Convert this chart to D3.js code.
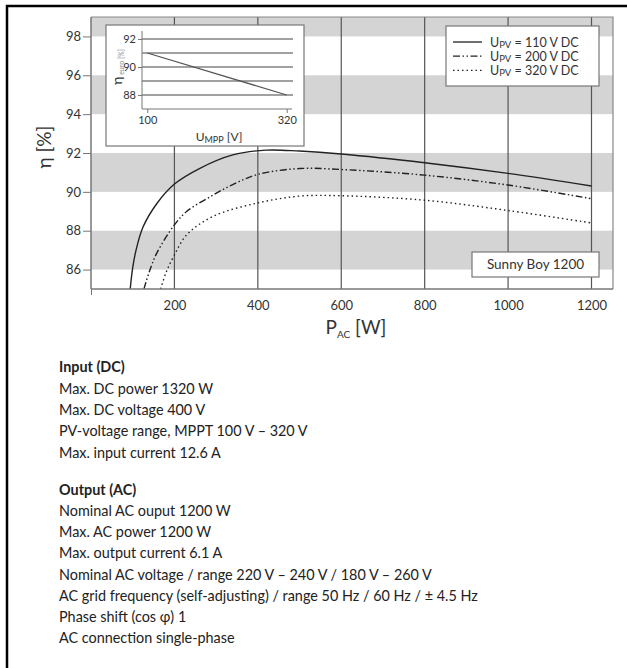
<!DOCTYPE html>
<html>
<head>
<meta charset="utf-8">
<script src="https://cdn.jsdelivr.net/npm/d3@7/dist/d3.min.js"></script>
<style>
body { margin: 0; background: #fff; }
svg { display: block; }
</style>
</head>
<body>
<svg id="svg"></svg>
<script>
var width = 627, height = 668;

// efficiency curves: P_AC [W] -> eta [%]
var powerUpv110 = [94, 100, 108, 125, 158, 200, 260, 340, 420, 500, 600, 800, 1000, 1200];
var etaUpv110   = [85, 86.1, 87.0, 88.2, 89.4, 90.4, 91.2, 91.9, 92.15, 92.1, 91.95, 91.5, 90.95, 90.3];
var powerUpv200 = [127, 140, 158, 200, 230, 294, 342, 400, 500, 600, 800, 1000, 1200];
var etaUpv200   = [85, 85.9, 86.86, 88.3, 89.0, 89.85, 90.4, 90.9, 91.2, 91.15, 90.86, 90.35, 89.65];
var powerUpv320 = [167, 180, 200, 230, 294, 400, 500, 600, 800, 1000, 1200];
var etaUpv320   = [85, 85.85, 86.75, 87.8, 88.75, 89.43, 89.78, 89.8, 89.57, 89.04, 88.4];
var seriesNames = ["110", "200", "320"];

var xTicks = [200, 400, 600, 800, 1000, 1200];
var yTicks = [86, 88, 90, 92, 94, 96, 98];
var bands = [[86, 88], [90, 92], [94, 96], [98, 99]];

// inset: euro efficiency vs MPP voltage
var insetVolt = [100, 320];
var insetEta = [91.0, 88.0];
var insetGrid = [88, 89, 90, 91, 92];
var insetYTicks = [88, 90, 92];
var insetXTicks = [100, 320];

var inputLines = ["Max. DC power 1320 W", "Max. DC voltage 400 V",
	"PV-voltage range, MPPT 100 V \u2013 320 V", "Max. input current 12.6 A"];
var outputLines = ["Nominal AC ouput 1200 W", "Max. AC power 1200 W", "Max. output current 6.1 A",
	"Nominal AC voltage / range 220 V \u2013 240 V / 180 V \u2013 260 V",
	"AC grid frequency (self-adjusting) / range 50 Hz / 60 Hz / \u00b1 4.5 Hz",
	"Phase shift (cos \u03c6) 1", "AC connection single-phase"];

var chartFont = "Lato, 'DejaVu Sans', sans-serif";
var textFont = "Lato, 'Open Sans', sans-serif";

var svg = d3.select("#svg")
	.attr("width", width)
	.attr("height", height);

// outer frame
svg.append("rect")
	.attr("x", 7).attr("y", 6)
	.attr("width", 630).attr("height", 680)
	.attr("fill", "none")
	.attr("stroke", "#000")
	.attr("stroke-width", 2.5);

var plotLeft = 91, plotRight = 613, plotTop = 17, plotBottom = 289;

var x = d3.scaleLinear().domain([0, 1200]).range([91, 591.5]);
var y = d3.scaleLinear().domain([85, 99]).range([plotBottom, plotTop]);

// bands
svg.selectAll(".band")
	.data(bands)
	.enter()
	.append("rect")
	.attr("class", "band")
	.attr("x", plotLeft)
	.attr("width", plotRight - plotLeft)
	.attr("y", function(d) { return y(d[1]); })
	.attr("height", function(d) { return y(d[0]) - y(d[1]); })
	.attr("fill", "#d4d4d4");

// vertical grid
svg.selectAll(".vgrid")
	.data(xTicks)
	.enter()
	.append("line")
	.attr("x1", function(d) { return x(d); })
	.attr("x2", function(d) { return x(d); })
	.attr("y1", plotTop)
	.attr("y2", plotBottom)
	.attr("stroke", "#555")
	.attr("stroke-width", 1.2);

// plot frame (top/right)
svg.append("path")
	.attr("d", "M" + plotLeft + "," + plotTop + "H" + plotRight + "V" + plotBottom)
	.attr("fill", "none")
	.attr("stroke", "#888")
	.attr("stroke-width", 1.2);

svg.append("clipPath").attr("id", "plotclip")
	.append("rect")
	.attr("x", plotLeft).attr("y", plotTop)
	.attr("width", plotRight - plotLeft).attr("height", plotBottom - plotTop);

var line = d3.line()
	.x(function(d) { return x(d[0]); })
	.y(function(d) { return y(d[1]); })
	.curve(d3.curveCatmullRom.alpha(0.5));

var series = [
	{ p: powerUpv110, e: etaUpv110, dash: null, w: 1.4 },
	{ p: powerUpv200, e: etaUpv200, dash: "7,2.5,1.5,2.5,1.5,2.5", w: 1.4 },
	{ p: powerUpv320, e: etaUpv320, dash: "1.5,3", w: 1.4 }
];

svg.append("g")
	.attr("clip-path", "url(#plotclip)")
	.selectAll("path")
	.data(series)
	.enter()
	.append("path")
	.attr("d", function(s) { return line(d3.zip(s.p, s.e)); })
	.attr("fill", "none")
	.attr("stroke", "#222")
	.attr("stroke-width", function(s) { return s.w; })
	.attr("stroke-dasharray", function(s) { return s.dash; });

// axes
var xAxis = d3.axisBottom(x).tickValues([0].concat(xTicks)).tickSize(6)
	.tickFormat(function(d) { return d === 0 ? "" : d; });
var gx = svg.append("g")
	.attr("transform", "translate(0," + plotBottom + ")")
	.call(xAxis);
gx.select(".domain").attr("d", "M" + plotLeft + ",0H" + plotRight).attr("stroke", "#777").attr("stroke-width", 1.5);
gx.selectAll(".tick line").attr("stroke", "#777").attr("y2", function(d) { return d === 0 ? 6 : 0; });
gx.selectAll(".tick text")
	.attr("y", 12)
	.style("font-family", chartFont)
	.style("font-size", "13px")
	.attr("fill", "#333");

var yAxis = d3.axisLeft(y).tickValues(yTicks).tickSize(8);
var gy = svg.append("g")
	.attr("transform", "translate(" + plotLeft + ",0)")
	.call(yAxis);
gy.select(".domain").attr("d", "M0," + plotTop + "V" + plotBottom).attr("stroke", "#777").attr("stroke-width", 1.5);
gy.selectAll(".tick line").attr("stroke", "#777");
gy.selectAll(".tick text")
	.attr("x", -10)
	.style("font-family", chartFont)
	.style("font-size", "13px")
	.attr("fill", "#333");

// axis titles
var xt = svg.append("text")
	.attr("x", 356).attr("y", 334)
	.attr("text-anchor", "middle")
	.style("font-family", chartFont)
	.style("font-size", "19px")
	.attr("fill", "#333");
xt.append("tspan").text("P");
xt.append("tspan").attr("dy", 4).style("font-size", "10px").text("AC");
xt.append("tspan").attr("dy", -4).text(" [W]");

svg.append("text")
	.attr("transform", "translate(51,147) rotate(-90)")
	.attr("text-anchor", "middle")
	.style("font-family", chartFont)
	.style("font-size", "19px")
	.attr("fill", "#333")
	.text("\u03b7 [%]");

// legend
var legend = svg.append("g");
legend.append("rect")
	.attr("x", 446).attr("y", 26)
	.attr("width", 153).attr("height", 60)
	.attr("fill", "#fff")
	.attr("stroke", "#777")
	.attr("stroke-width", 1.2);
var lg = legend.selectAll(".lg")
	.data(series)
	.enter()
	.append("g")
	.attr("transform", function(d, i) { return "translate(0," + (42 + i * 14.2) + ")"; });
lg.append("line")
	.attr("x1", 453).attr("x2", 482)
	.attr("stroke", "#222")
	.attr("stroke-width", 1.3)
	.attr("stroke-dasharray", function(s) { return s.dash; });
var lt = lg.append("text")
	.attr("x", 490).attr("y", 4.5)
	.style("font-family", chartFont)
	.style("font-size", "12.5px")
	.attr("fill", "#333");
lt.append("tspan").text("U");
lt.append("tspan").attr("dy", 1.5).style("font-size", "9.5px").text("PV");
lt.append("tspan").attr("dy", -1.5).text(function(d, i) { return " = " + seriesNames[i] + " V DC"; });

// model label
svg.append("rect")
	.attr("x", 472).attr("y", 252)
	.attr("width", 127).attr("height", 25)
	.attr("fill", "#fff")
	.attr("stroke", "#777")
	.attr("stroke-width", 1.2);
svg.append("text")
	.attr("x", 535.5).attr("y", 269)
	.attr("text-anchor", "middle")
	.style("font-family", chartFont)
	.style("font-size", "13.5px")
	.attr("fill", "#333")
	.text("Sunny Boy 1200");

// inset
var inset = svg.append("g");
inset.append("rect")
	.attr("x", 106).attr("y", 25)
	.attr("width", 198).attr("height", 121)
	.attr("fill", "#fff")
	.attr("stroke", "#777")
	.attr("stroke-width", 1.2);

var ix = d3.scaleLinear().domain([100, 320]).range([147.3, 286.7]);
var iy = d3.scaleLinear().domain([88, 92]).range([95, 39]);

inset.selectAll(".igrid")
	.data(insetGrid)
	.enter()
	.append("line")
	.attr("x1", 142).attr("x2", 293)
	.attr("y1", function(d) { return iy(d); })
	.attr("y2", function(d) { return iy(d); })
	.attr("stroke", "#444")
	.attr("stroke-width", 1.1);

var iyAxis = d3.axisLeft(iy).tickValues(insetYTicks).tickSize(4).tickFormat(d3.format("d"));
var giy = inset.append("g").attr("transform", "translate(142,0)").call(iyAxis);
giy.select(".domain").attr("d", "M0,31V109").attr("stroke", "#777");
giy.selectAll(".tick line").attr("stroke", "#777");
giy.selectAll(".tick text").attr("x", -6)
	.style("font-family", chartFont).style("font-size", "11px").attr("fill", "#333");

var ixAxis = d3.axisBottom(ix).tickValues(insetXTicks).tickSize(4).tickFormat(d3.format("d"));
var gix = inset.append("g").attr("transform", "translate(0,109)").call(ixAxis);
gix.select(".domain").attr("d", "M142,0H292").attr("stroke", "#777");
gix.selectAll(".tick line").attr("stroke", "#777");
gix.selectAll(".tick text").attr("y", 7)
	.style("font-family", chartFont).style("font-size", "11px").attr("fill", "#333");

inset.append("path")
	.attr("d", d3.line()
		.x(function(d) { return ix(d[0]); })
		.y(function(d) { return iy(d[1]); })(d3.zip(insetVolt, insetEta)))
	.attr("fill", "none")
	.attr("stroke", "#555")
	.attr("stroke-width", 1.2);

var iyt = inset.append("text")
	.attr("transform", "translate(122,67) rotate(-90)")
	.attr("text-anchor", "middle")
	.style("font-family", chartFont)
	.attr("fill", "#333");
iyt.append("tspan").style("font-size", "14px").text("\u03b7");
iyt.append("tspan").attr("dy", 2).style("font-size", "7px").attr("fill", "#888").text(" euro [%]");

var ixt = inset.append("text")
	.attr("x", 219).attr("y", 141)
	.attr("text-anchor", "middle")
	.style("font-family", chartFont)
	.style("font-size", "12px")
	.attr("fill", "#333");
ixt.append("tspan").text("U");
ixt.append("tspan").attr("dy", 2).style("font-size", "9px").text("MPP");
ixt.append("tspan").attr("dy", -2).text(" [V]");

// spec text
var spec = svg.append("g")
	.style("font-family", textFont)
	.style("font-size", "14.4px")
	.attr("fill", "#222");
spec.append("text").attr("x", 59).attr("y", 372).style("font-weight", "bold").text("Input (DC)");
spec.selectAll(".inl")
	.data(inputLines)
	.enter()
	.append("text")
	.attr("x", 59)
	.attr("y", function(d, i) { return 394 + i * 21.2; })
	.text(function(d) { return d; });
spec.append("text").attr("x", 59).attr("y", 495).style("font-weight", "bold").text("Output (AC)");
spec.selectAll(".outl")
	.data(outputLines)
	.enter()
	.append("text")
	.attr("x", 59)
	.attr("y", function(d, i) { return 516 + i * 21.2; })
	.text(function(d) { return d; });
</script>
</body>
</html>
